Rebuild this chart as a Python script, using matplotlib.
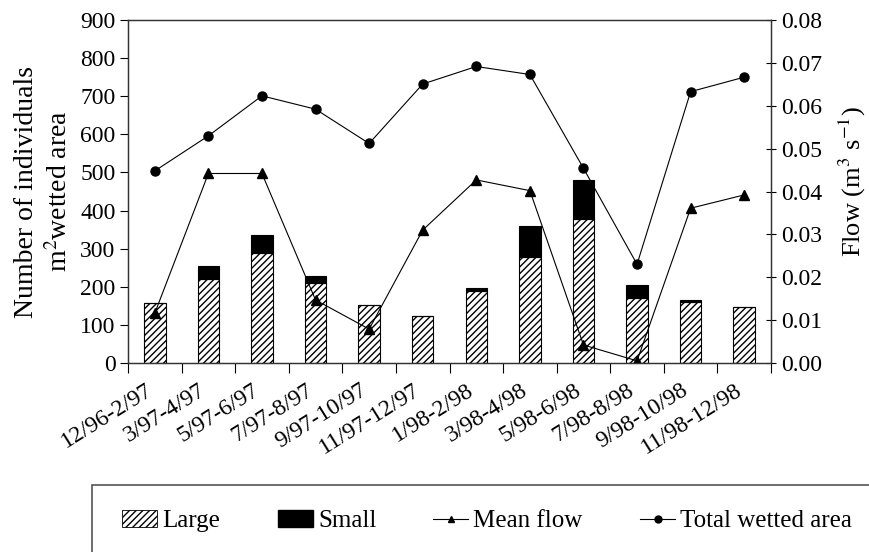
import numpy as np
import matplotlib
matplotlib.use("Agg")
import matplotlib.pyplot as plt
from matplotlib.patches import Patch, Rectangle
from matplotlib.lines import Line2D
from matplotlib.transforms import ScaledTranslation

# data
periods = ["12/96-2/97", "3/97-4/97", "5/97-6/97", "7/97-8/97", "9/97-10/97",
           "11/97-12/97", "1/98-2/98", "3/98-4/98", "5/98-6/98", "7/98-8/98",
           "9/98-10/98", "11/98-12/98"]
large = [158, 220, 288, 209, 151, 123, 189, 279, 378, 171, 160, 148]
small = [0, 35, 48, 19, 0, 0, 9, 80, 102, 34, 6, 0]
mean_flow = [0.0116, 0.0442, 0.0442, 0.0147, 0.0079, 0.0310,
             0.0427, 0.0402, 0.0042, 0.0005, 0.0361, 0.0392]
wetted_area = [504, 596, 701, 666, 576, 732, 778, 757, 511, 259, 712, 750]

plt.rcParams['font.family'] = ['Liberation Serif', 'DejaVu Serif']
plt.rcParams['mathtext.fontset'] = 'stix'
plt.rcParams['hatch.linewidth'] = 1.0

fig = plt.figure(figsize=(8.69, 5.52), dpi=100)
ax = fig.add_axes([128/869, 1-363/552, (771-128)/869, (363-20)/552])
ax2 = ax.twinx()

x = np.arange(len(periods))
w = 0.4
ax.bar(x, large, w, color='white', edgecolor='black', hatch='/////', lw=0.8, zorder=2)
ax.bar(x, small, w, bottom=large, color='black', edgecolor='black', lw=0.8, zorder=2)
ax.plot(x, wetted_area, color='black', lw=0.8, marker='o', ms=6.5, zorder=3)
ax2.plot(x, mean_flow, color='black', lw=0.8, marker='^', ms=7.5)

ax.set_xlim(-0.5, len(periods)-0.5)
ax.set_ylim(0, 900)
ax.set_yticks(np.arange(0, 901, 100))
ax2.set_ylim(0, 0.08)
ax2.set_yticks(np.arange(0, 0.081, 0.01))
ax2.set_yticklabels(['%.2f' % v for v in np.arange(0, 0.081, 0.01)])

ax.set_xticks(x)
ax.set_xticklabels(periods, rotation=32, ha='right', va='top', rotation_mode='anchor')
ax.set_xticks(np.arange(-0.5, len(periods), 1.0), minor=True)
ax.tick_params(axis='x', which='major', length=0, pad=12, labelsize=17)
ax.tick_params(axis='x', which='minor', length=7, width=0.8, direction='out')
ax.tick_params(axis='y', length=6, width=0.8, direction='out', labelsize=17, pad=3)
ax2.tick_params(axis='y', length=7, width=0.8, direction='inout', labelsize=17, pad=4)
shift = ScaledTranslation(-10/100, 0, fig.dpi_scale_trans)
for lbl in ax.get_xticklabels():
    lbl.set_transform(lbl.get_transform() + shift)

for a in (ax, ax2):
    for s in a.spines.values():
        s.set_linewidth(0.9)
        s.set_color('#333333')

ax.set_ylabel("Number of individuals\nm$^{2}$wetted area", fontsize=20, linespacing=1.35)
ax.yaxis.set_label_coords(-0.085, 0.5)
ax2.set_ylabel("Flow (m$^{3}$ s$^{-1}$)", fontsize=19)
ax2.yaxis.set_label_coords(1.102, 0.53)

# legend box running off the figure edge
fig.patches.append(Rectangle((92/869, -0.2), 1.0, 0.2 + 1-485/552, transform=fig.transFigure,
                             fill=False, edgecolor='#555555', lw=1.2))
handles = [Patch(facecolor='white', edgecolor='black', hatch='/////', lw=0.6),
           Patch(facecolor='black', edgecolor='black'),
           Line2D([], [], color='black', lw=0.8, marker='^', ms=5),
           Line2D([], [], color='black', lw=0.8, marker='o', ms=5)]
names = ["Large", "Small", "Mean flow", "Total wetted area"]
starts = [122, 278, 433, 640]
for h, n, sx in zip(handles, names, starts):
    fig.legend([h], [n], loc='center left', bbox_to_anchor=(sx/869, 1-521/552),
               frameon=False, fontsize=18, handlelength=1.4, handletextpad=0.2,
               borderpad=0, borderaxespad=0)

fig.savefig("out.png", dpi=100)
